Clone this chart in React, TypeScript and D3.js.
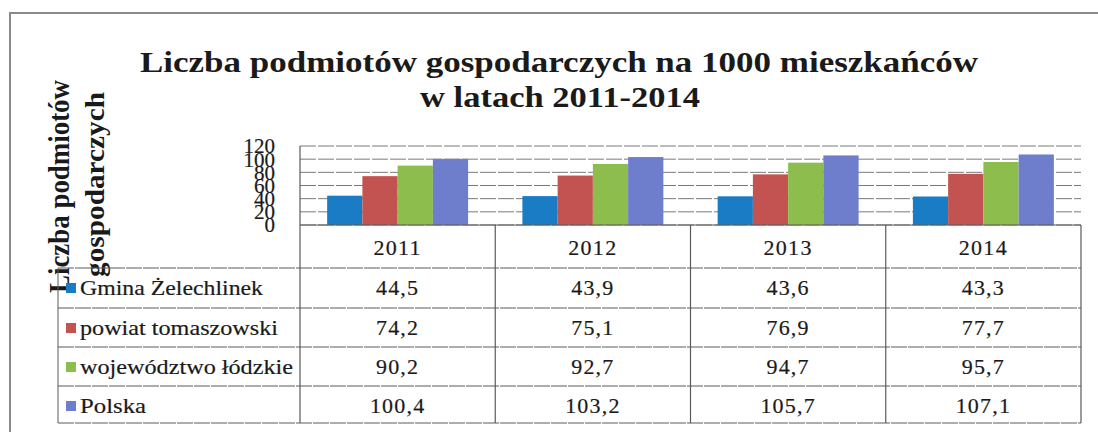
import React from "react";
import * as d3 from "d3";

const years = ["2011", "2012", "2013", "2014"];
const seriesNames = ["Gmina Żelechlinek", "powiat tomaszowski", "województwo łódzkie", "Polska"];
const gmina = [44.5, 43.9, 43.6, 43.3];
const powiat = [74.2, 75.1, 76.9, 77.7];
const wojewodztwo = [90.2, 92.7, 94.7, 95.7];
const polska = [100.4, 103.2, 105.7, 107.1];
const yTicks = [0, 20, 40, 60, 80, 100, 120];
const valueLabels = [
  ["44,5", "43,9", "43,6", "43,3"],
  ["74,2", "75,1", "76,9", "77,7"],
  ["90,2", "92,7", "94,7", "95,7"],
  ["100,4", "103,2", "105,7", "107,1"],
];

const colors = ["#1b7cc6", "#c25350", "#8dbd4c", "#6e7ecd"];
const legendWidths = [183, 198, 213, 66];
const FONT = '"Liberation Serif", "Times New Roman", Times, serif';
const ts: React.CSSProperties = { fontFamily: FONT };
const heavy = { stroke: "#1a1a1a", strokeWidth: 0.2 };

export default function App() {
  const W = 1098, H = 432;
  const plotL = 300, plotR = 1081, plotT = 146, plotB = 225;
  const tableL = 58;
  const rowYs = [225, 268, 308, 347, 386, 423];
  const series = [gmina, powiat, wojewodztwo, polska];

  const x = d3.scaleBand<string>().domain(years).range([plotL, plotR]).paddingInner(0).paddingOuter(0);
  const bw = x.bandwidth();
  const inner = d3.scaleBand<number>().domain([0, 1, 2, 3]).range([bw * 0.139, bw * 0.861]).padding(0);
  const y = d3.scaleLinear().domain([0, 120]).range([plotB, plotT]);

  const lineColor = "#5a5a5a";
  const gridColor = "#7a7a7a";

  return (
    <svg width={W} height={H} style={{ position: "absolute", left: 0, top: 0, background: "#fff", fontFamily: FONT }}>
      {/* outer frame */}
      <path d={`M10,${H + 5} L10,13 L${W + 5},13`} fill="none" stroke="#8a8a8a" strokeWidth={2} />

      {/* title */}
      <text style={ts} x={559} y={72} textAnchor="middle" fontSize={30} fontWeight="bold" fill="#1a1a1a" textLength={838} lengthAdjust="spacingAndGlyphs">
        Liczba podmiotów gospodarczych na 1000 mieszkańców
      </text>
      <text style={ts} x={560} y={107} textAnchor="middle" fontSize={30} fontWeight="bold" fill="#1a1a1a" textLength={280} lengthAdjust="spacingAndGlyphs">
        w latach 2011-2014
      </text>

      {/* y-axis title */}
      <text style={ts} transform="translate(69,186.5) rotate(-90)" textAnchor="middle" fontSize={29} fontWeight="bold" fill="#1a1a1a" textLength={213} lengthAdjust="spacingAndGlyphs">
        Liczba podmiotów
      </text>
      <text style={ts} transform="translate(104,184.5) rotate(-90)" textAnchor="middle" fontSize={28} fontWeight="bold" fill="#1a1a1a" textLength={185} lengthAdjust="spacingAndGlyphs">
        gospodarczych
      </text>

      {/* gridlines */}
      {yTicks.map((t) => (
        <line key={"g" + t} x1={plotL} x2={plotR} y1={y(t)} y2={y(t)} stroke={gridColor} strokeWidth={1} strokeDasharray="16,2" />
      ))}

      {/* y tick labels */}
      {yTicks.map((t) => (
        <text style={ts} key={"t" + t} x={275} y={y(t)} dy="0.35em" textAnchor="end" fontSize={21} fill="#1a1a1a" {...heavy}>
          {t}
        </text>
      ))}

      {/* bars */}
      {years.map((yr, i) => (
        <g key={yr}>
          {series.map((s, j) => (
            <rect
              key={j}
              x={(x(yr) as number) + (inner(j) as number)}
              y={y(s[i])}
              width={inner.bandwidth()}
              height={plotB - y(s[i])}
              fill={colors[j]}
            />
          ))}
        </g>
      ))}

      {/* table horizontal lines */}
      <line x1={plotL} x2={plotR} y1={rowYs[0]} y2={rowYs[0]} stroke={lineColor} strokeWidth={1} />
      {rowYs.slice(1).map((ry, i) => (
        <line key={"h" + i} x1={tableL} x2={plotR} y1={ry} y2={ry} stroke={lineColor} strokeWidth={1} strokeDasharray="16,1" />
      ))}
      {/* vertical lines */}
      <line x1={plotL} x2={plotL} y1={plotT} y2={rowYs[5]} stroke={lineColor} strokeWidth={1.2} />
      {years.map((yr) => (
        <line key={"v" + yr} x1={(x(yr) as number) + bw} x2={(x(yr) as number) + bw} y1={rowYs[0]} y2={rowYs[5]} stroke={lineColor} strokeWidth={1.2} />
      ))}
      <line x1={tableL} x2={tableL} y1={rowYs[1]} y2={rowYs[5]} stroke={lineColor} strokeWidth={1} />

      {/* header years */}
      {years.map((yr) => (
        <text style={ts} key={"y" + yr} x={(x(yr) as number) + bw / 2} y={255} textAnchor="middle" fontSize={22} letterSpacing={1.3} fill="#1a1a1a" {...heavy}>
          {yr}
        </text>
      ))}

      {/* legend rows and values */}
      {seriesNames.map((name, j) => {
        const base = rowYs[j + 1] + 27;
        return (
          <g key={name}>
            <rect x={66} y={base - 12} width={10} height={10} fill={colors[j]} />
            <text style={ts} x={80} y={base} fontSize={22} fill="#1a1a1a" {...heavy} textLength={legendWidths[j]} lengthAdjust="spacingAndGlyphs">
              {name}
            </text>
            {years.map((yr, i) => (
              <text style={ts} key={yr} x={(x(yr) as number) + bw / 2} y={base} textAnchor="middle" fontSize={22} letterSpacing={1.2} fill="#1a1a1a" {...heavy}>
                {valueLabels[j][i]}
              </text>
            ))}
          </g>
        );
      })}
    </svg>
  );
}
